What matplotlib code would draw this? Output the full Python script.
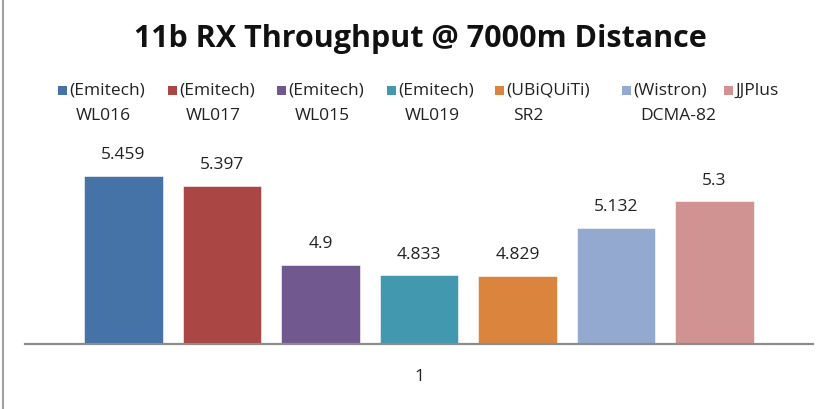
import matplotlib
matplotlib.use("Agg")
import matplotlib.pyplot as plt
from matplotlib.lines import Line2D
from matplotlib.patches import Rectangle

# data
vendors = ["(Emitech)", "(Emitech)", "(Emitech)", "(Emitech)", "(UBiQUiTi)", "(Wistron)", "JJPlus"]
models = ["WL016", "WL017", "WL015", "WL019", "SR2", "DCMA-82", ""]
throughput = [5.459, 5.397, 4.9, 4.833, 4.829, 5.132, 5.3]
value_labels = ["5.459", "5.397", "4.9", "4.833", "4.829", "5.132", "5.3"]
colors = ["#4572A7", "#AA4643", "#71588F", "#4198AF", "#DB843D", "#93A9CF", "#D19392"]
category = "1"

plt.rcParams["font.family"] = ["Open Sans", "DejaVu Sans"]

W, H = 830, 409
fig = plt.figure(figsize=(W / 100, H / 100), dpi=100)
ax = fig.add_axes([25 / W, (H - 344) / H, (813 - 25) / W, (344 - 153.6) / H])

xs = list(range(len(throughput)))
ax.bar(xs, throughput, width=0.8, color=colors, edgecolor="white", linewidth=0.4)
ax.set_xlim(-1, 7)
ax.set_ylim(4.4, 5.6)

for x, v, lab in zip(xs, throughput, value_labels):
    ax.annotate(lab, (x, v), textcoords="offset points", xytext=(0, 9),
                ha="center", va="bottom", fontsize=12.5, color="#222222")

for s in ["top", "right", "left"]:
    ax.spines[s].set_visible(False)
ax.spines["bottom"].set_color("#8c8c8c")
ax.spines["bottom"].set_linewidth(1.6)
ax.set_yticks([])
ax.set_xticks([3])
ax.set_xticklabels([category], fontsize=12.5, color="#222222")
ax.tick_params(axis="x", length=0, pad=18)

fig.text(420 / W, 1 - 39 / H, "11b RX Throughput @ 7000m Distance",
         ha="center", va="center", fontsize=22, fontweight="bold", color="#111111")

# hand-placed two-line legend, handle aligned with first line
handle_x = [58, 168, 277, 387, 495, 622, 724]
for hx, c, vend, mod in zip(handle_x, colors, vendors, models):
    fig.patches.append(Rectangle((hx / W, 1 - 95 / H), 9 / W, 9 / H,
                                 transform=fig.transFigure, facecolor=c, edgecolor="none"))
    fig.text((hx + 11) / W, 1 - 90.5 / H, vend, ha="left", va="center",
             fontsize=12.5, color="#222222")
    if mod:
        fig.text((hx + 18) / W, 1 - 116 / H, mod, ha="left", va="center",
                 fontsize=12.5, color="#222222")

# chart frame edge on the left
fig.add_artist(Line2D([2.5 / W, 2.5 / W], [0, 1], transform=fig.transFigure,
                      color="#a0a0a0", linewidth=1.5))

fig.savefig("out.png", dpi=100)
